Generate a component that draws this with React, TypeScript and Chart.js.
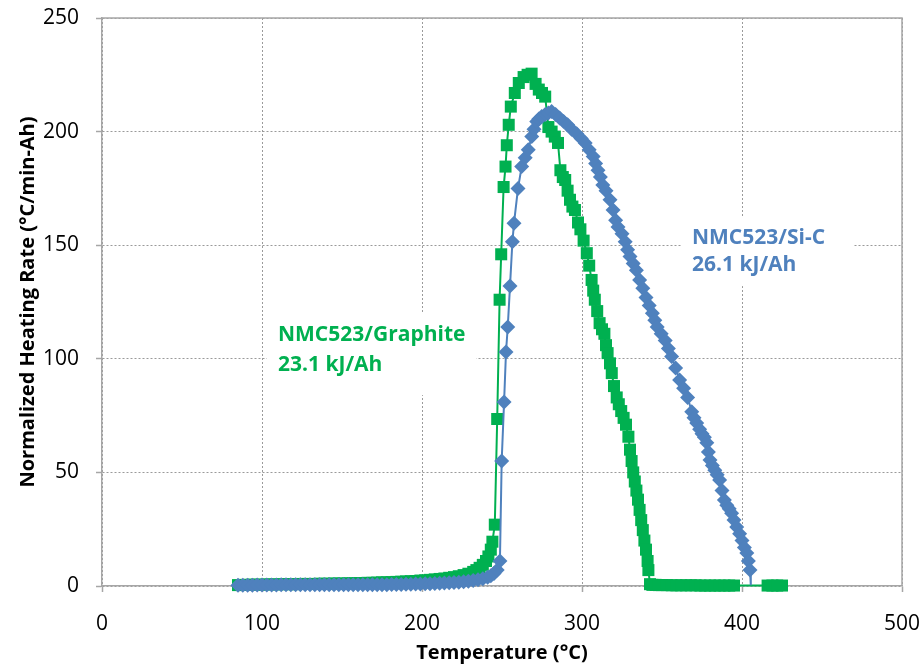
import React, { useEffect, useRef } from "react";
import { Chart, registerables } from "chart.js";

Chart.register(...registerables);

// ---- Data ----
const graphiteTemp = [
  85, 88, 91, 94, 97, 100, 103, 106, 109, 112, 115, 118, 121, 124, 127, 130, 133, 136, 139, 142,
  145, 148, 151, 154, 157, 160, 163, 166, 169, 172, 175, 178, 181, 184, 187, 190, 193, 196, 199, 202,
  205, 208, 211, 214, 217, 220, 223, 226, 229, 232, 234, 236, 238, 240, 241.5, 243, 244, 245.5, 247, 248.5,
  249.5, 251, 252.2, 253, 254.2, 255.5, 258, 260.5, 263.5, 266, 268.5, 271, 273, 275, 277, 279, 281, 283, 285, 286.5,
  288, 289.5, 291, 292.5, 294, 295.6, 297.5, 299, 301, 303, 304.5, 306, 307, 308, 309.5, 311, 312.5, 314, 315, 316,
  317.5, 318.6, 320, 321.7, 323, 324.5, 326, 327.5, 329, 330, 331, 332, 333, 334, 335, 336, 337, 338, 339, 340,
  341, 341.5, 342.5, 344, 346, 348, 350, 353, 356, 359, 362, 365, 368, 371, 374, 377, 380, 383, 386, 389,
  392, 395, 416, 419, 422, 425,
];
const graphiteRate = [
  0.4, 0.5, 0.5, 0.6, 0.6, 0.6, 0.7, 0.7, 0.7, 0.8, 0.8, 0.8, 0.8, 0.9, 0.9, 0.9, 0.9, 1.0, 1.0, 1.0,
  1.1, 1.1, 1.1, 1.2, 1.2, 1.3, 1.3, 1.4, 1.4, 1.5, 1.6, 1.6, 1.7, 1.8, 1.9, 2.0, 2.1, 2.2, 2.4, 2.5,
  2.7, 2.9, 3.1, 3.3, 3.6, 3.9, 4.3, 4.8, 5.4, 6.2, 7.0, 8.0, 9.3, 11, 13, 16, 19.5, 27, 73.5, 126,
  146, 175.6, 184.6, 194, 203, 211, 217, 221.4, 224, 225, 225.5, 221, 218.5, 217, 215.4, 202, 200, 197.8, 195, 183,
  180, 178.7, 174, 170, 167, 165.5, 160, 157, 152, 146.5, 141, 134.7, 130, 126, 121, 115.7, 113, 111, 106, 102.5,
  98, 93.7, 88, 83, 80, 77, 74, 71, 65.7, 60, 55, 50, 46, 42, 38, 33.5, 29, 24.6, 20, 16,
  11, 7, 0.8, 0.5, 0.5, 0.4, 0.4, 0.4, 0.3, 0.3, 0.3, 0.3, 0.3, 0.3, 0.2, 0.2, 0.2, 0.2, 0.2, 0.2,
  0.2, 0.2, 0.2, 0.2, 0.2, 0.2,
];

const siCTemp = [
  85, 88, 91, 94, 97, 100, 103, 106, 109, 112, 115, 118, 121, 124, 127, 130, 133, 136, 139, 142,
  145, 148, 151, 154, 157, 160, 163, 166, 169, 172, 175, 178, 181, 184, 187, 190, 193, 196, 199, 202,
  205, 208, 211, 214, 217, 220, 223, 226, 229, 232, 235, 238, 241, 243, 245, 247, 248.7, 249.8, 251.3, 252.5,
  253.6, 255, 256.5, 257.5, 260, 262.3, 264.5, 266.4, 268.6, 270, 271.7, 273, 274.8, 277, 279, 281, 283.5, 286, 288.5, 291,
  293.5, 296.7, 299.5, 302, 304.5, 307, 308.5, 310, 311.5, 313, 315, 317.5, 319.4, 321, 322.5, 325, 327, 328.5, 330, 332,
  334, 336, 338, 340, 342, 344, 345.5, 347, 349.5, 352, 354, 356, 358.5, 361, 363.5, 366, 368.6, 370, 371.7, 373.5,
  375, 376.5, 378, 379, 380, 381.5, 383, 384.5, 386, 387.5, 389, 390.5, 392, 393.5, 395, 396.7, 398.5, 400, 401.5, 403,
  404, 405, 405.5,
];
const siCRate = [
  0.3, 0.3, 0.3, 0.3, 0.4, 0.4, 0.4, 0.4, 0.4, 0.5, 0.5, 0.5, 0.5, 0.5, 0.5, 0.5, 0.5, 0.5, 0.5, 0.5,
  0.5, 0.5, 0.5, 0.5, 0.5, 0.5, 0.5, 0.5, 0.6, 0.6, 0.6, 0.6, 0.7, 0.7, 0.7, 0.8, 0.8, 0.9, 0.9, 1.0,
  1.0, 1.1, 1.2, 1.3, 1.4, 1.5, 1.7, 1.9, 2.1, 2.4, 2.8, 3.2, 3.8, 4.5, 5.5, 7, 11, 55, 81, 103,
  114, 132, 151.5, 159.7, 175, 184.6, 188.5, 192, 197.8, 201, 204.4, 205.5, 206.6, 207.5, 208.2, 208.8, 207.5, 206, 204.5, 203,
  201, 199, 197, 195, 192, 189, 186, 183, 180, 176.5, 174, 170, 165.5, 161, 158, 155, 151.5, 148, 145, 142,
  139, 134.7, 131, 127, 123.5, 120, 117, 114, 111, 108, 104.5, 101, 96, 90.7, 87, 83, 76.7, 74, 71.7, 69,
  67, 65.5, 63, 59, 55.5, 53, 51, 49, 46.7, 42, 37.9, 35.5, 34, 32, 29, 26, 23, 20, 17, 14.5,
  11, 7, 0.3,
];

const xTickValues = [0, 100, 200, 300, 400, 500];
const yTickValues = [0, 50, 100, 150, 200, 250];

const graphiteLabel = ["NMC523/Graphite", "23.1 kJ/Ah"];
const siCLabel = ["NMC523/Si-C", "26.1 kJ/Ah"];

const GREEN = "rgb(0,176,80)";
const BLUE = "rgb(79,129,189)";
const GRID = "#9a9a9a";
const AXIS = "#a6a6a6";

const annotationLayout = [
  { lines: graphiteLabel, color: GREEN, x: 110, y: [110.5, 97.3], box: [103, 120, 234, 84] },
  { lines: siCLabel, color: BLUE, x: 368.75, y: [153.2, 141.3], box: [362, 162, 470, 132] },
];

const zeroPadding = (s: any) => {
  s.paddingTop = 0;
  s.paddingBottom = 0;
  s.paddingLeft = 0;
  s.paddingRight = 0;
};

const annotationPlugin = {
  id: "textBoxes",
  beforeDatasetsDraw(chart: any) {
    const { ctx, scales } = chart;
    const xs = scales.x;
    const ys = scales.y;
    ctx.save();
    annotationLayout.forEach((a) => {
      const [bx1, by1, bx2, by2] = a.box;
      const px1 = xs.getPixelForValue(bx1);
      const py1 = ys.getPixelForValue(by1);
      const px2 = xs.getPixelForValue(bx2);
      const py2 = ys.getPixelForValue(by2);
      ctx.fillStyle = "#ffffff";
      ctx.fillRect(px1, py1, px2 - px1, py2 - py1);
      ctx.fillStyle = a.color;
      ctx.font = "bold 21px 'Open Sans'";
      ctx.textAlign = "left";
      ctx.textBaseline = "middle";
      a.lines.forEach((t, i) => {
        ctx.fillText(t, xs.getPixelForValue(a.x), ys.getPixelForValue(a.y[i]));
      });
    });
    ctx.restore();
  },
  afterDraw(chart: any) {
    const { ctx, chartArea } = chart;
    ctx.save();
    ctx.strokeStyle = AXIS;
    ctx.lineWidth = 1.5;
    ctx.beginPath();
    ctx.moveTo(chartArea.left, chartArea.top);
    ctx.lineTo(chartArea.right, chartArea.top);
    ctx.lineTo(chartArea.right, chartArea.bottom);
    ctx.stroke();
    ctx.restore();
  },
};

export default function App() {
  const canvasRef = useRef<HTMLCanvasElement | null>(null);

  useEffect(() => {
    if (!canvasRef.current) return;
    const graphitePts = graphiteTemp.map((t, i) => ({ x: t, y: graphiteRate[i] }));
    const siCPts = siCTemp.map((t, i) => ({ x: t, y: siCRate[i] }));
    const lastSi = siCPts.length - 1;

    const chart = new Chart(canvasRef.current, {
      type: "line",
      data: {
        datasets: [
          {
            label: "NMC523/Graphite",
            data: graphitePts,
            borderColor: GREEN,
            backgroundColor: GREEN,
            borderWidth: 2,
            pointStyle: "rect",
            pointRadius: 8.5,
            pointHoverRadius: 8.5,
            pointBorderWidth: 0,
            pointBackgroundColor: GREEN,
            pointBorderColor: GREEN,
            tension: 0,
            clip: false,
            order: 1,
          },
          {
            label: "NMC523/Si-C",
            data: siCPts,
            borderColor: BLUE,
            backgroundColor: BLUE,
            borderWidth: 2,
            pointStyle: "rectRot",
            pointRadius: (c: any) => (c.dataIndex === lastSi ? 0 : 7.5),
            pointHoverRadius: 7.5,
            pointBorderWidth: 0,
            pointBackgroundColor: BLUE,
            pointBorderColor: BLUE,
            tension: 0,
            clip: false,
            order: 0,
          },
        ],
      },
      options: {
        animation: false,
        responsive: true,
        maintainAspectRatio: false,
        layout: { autoPadding: false, padding: { top: 18, right: 22, left: 0, bottom: 0 } },
        plugins: {
          legend: { display: false },
          tooltip: { enabled: false },
        },
        scales: {
          x: {
            type: "linear",
            min: 0,
            max: 500,
            afterBuildTicks: (s: any) => {
              s.ticks = xTickValues.map((v) => ({ value: v }));
            },
            afterFit: (s: any) => {
              s.height = 80;
              zeroPadding(s);
            },
            ticks: {
              autoSkip: false,
              maxRotation: 0,
              color: "#000",
              padding: 19,
              font: { family: "'Open Sans'", size: 21 },
            },
            grid: {
              color: GRID,
              lineWidth: 1,
              tickLength: 6,
              tickColor: AXIS,
              tickWidth: 1.5,
              tickBorderDash: [],
            },
            border: { display: true, color: AXIS, width: 1.5, dash: [2, 2] },
            title: {
              display: true,
              text: "Temperature (°C)",
              color: "#000",
              font: { family: "'Open Sans'", size: 20, weight: "bold" },
              padding: { top: 0, bottom: 1 },
            },
          },
          y: {
            type: "linear",
            min: 0,
            max: 250,
            afterBuildTicks: (s: any) => {
              s.ticks = yTickValues.map((v) => ({ value: v }));
            },
            afterFit: (s: any) => {
              s.width = 102;
              zeroPadding(s);
            },
            ticks: {
              autoSkip: false,
              color: "#000",
              padding: 17,
              font: { family: "'Open Sans'", size: 21 },
            },
            grid: {
              color: GRID,
              lineWidth: 1,
              tickLength: 6,
              tickColor: AXIS,
              tickWidth: 1.5,
              tickBorderDash: [],
            },
            border: { display: true, color: AXIS, width: 1.5, dash: [2, 2] },
            title: {
              display: true,
              text: "Normalized Heating Rate (°C/min-Ah)",
              color: "#000",
              font: { family: "'Open Sans'", size: 20, weight: "bold" },
              padding: { top: 16, bottom: 0 },
            },
          },
        },
      },
      plugins: [annotationPlugin],
    } as any);

    return () => chart.destroy();
  }, []);

  return (
    <div style={{ position: "fixed", left: 0, top: 0, width: 924, height: 666, background: "#fff" }}>
      <canvas ref={canvasRef} />
    </div>
  );
}
